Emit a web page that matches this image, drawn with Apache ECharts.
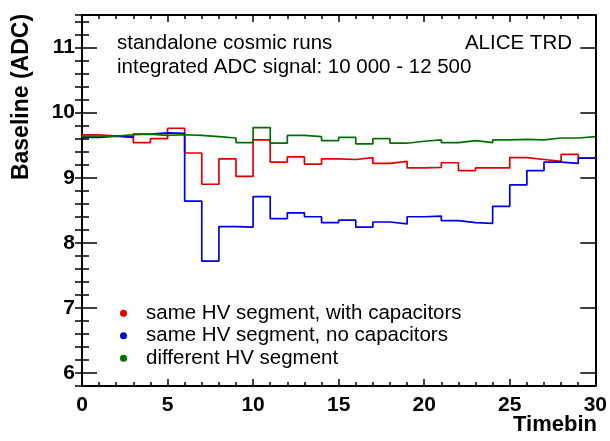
<!DOCTYPE html>
<html>
<head>
<meta charset="utf-8">
<script src="https://cdn.jsdelivr.net/npm/echarts@6/dist/echarts.min.js"></script>
<style>
    html, body { margin: 0; padding: 0; background: #fff; }
    #chart { width: 610px; height: 441px; }
</style>
</head>
<body>
<div id="chart"></div>
<script>
// baseline per timebin (bins 0..29)
var withCaps = [9.66, 9.64, 9.63, 9.54, 9.60, 9.76, 9.38, 8.90, 9.29, 9.02,
                9.58, 9.24, 9.32, 9.21, 9.29, 9.28, 9.31, 9.22, 9.25, 9.15,
                9.16, 9.23, 9.11, 9.15, 9.15, 9.31, 9.28, 9.25, 9.36, 9.30];
var noCaps = [9.62, 9.64, 9.62, 9.67, 9.69, 9.68, 8.64, 7.72, 8.25, 8.24,
              8.71, 8.37, 8.46, 8.40, 8.31, 8.35, 8.24, 8.32, 8.29, 8.40,
              8.41, 8.34, 8.31, 8.30, 8.56, 8.89, 9.11, 9.24, 9.22, 9.30];
var diffSeg = [9.64, 9.64, 9.66, 9.67, 9.65, 9.66, 9.65, 9.63, 9.61, 9.54,
               9.77, 9.53, 9.65, 9.63, 9.57, 9.62, 9.52, 9.60, 9.53, 9.56,
               9.58, 9.54, 9.57, 9.54, 9.58, 9.59, 9.58, 9.61, 9.61, 9.63];
var seriesNames = ['same HV segment, with capacitors', 'same HV segment, no capacitors', 'different HV segment'];
var yTicks = [6, 7, 8, 9, 10, 11];

var fontName = '"Liberation Sans", Arial, sans-serif';

function histData(values) {
    var out = [];
    for (var i = 0; i < values.length; i++) {
        out.push([i, values[i]]);
    }
    out.push([values.length, values[values.length - 1]]);
    return out;
}

function stepSeries(name, values, color) {
    return {
        name: name,
        type: 'line',
        step: 'end',
        showSymbol: false,
        symbol: 'none',
        lineStyle: { color: color, width: 1.7 },
        itemStyle: { color: color },
        data: histData(values)
    };
}

var frameLine = { show: true, onZero: false, lineStyle: { color: '#000', width: 2 } };

var chart = echarts.init(document.getElementById('chart'));
var option = {
    animation: false,
    backgroundColor: '#fff',
    grid: { left: 82, right: 14, top: 15, bottom: 55 },
    legend: {
        orient: 'vertical',
        left: 120,
        top: 302,
        padding: 0,
        itemGap: 0,
        icon: 'circle',
        itemWidth: 7,
        itemHeight: 7,
        data: seriesNames,
        textStyle: { fontFamily: fontName, fontSize: 20.5, color: '#000', lineHeight: 22.5, padding: [0, 0, 0, 14] }
    },
    xAxis: [
        {
            type: 'value', position: 'bottom', min: 0, max: 30, interval: 5,
            axisLine: frameLine,
            axisTick: { show: true, inside: true, length: 7, lineStyle: { color: '#000', width: 1.5 } },
            minorTick: { show: true, splitNumber: 5, length: 4, lineStyle: { color: '#000', width: 1.5 } },
            splitLine: { show: false },
            axisLabel: { fontFamily: fontName, fontSize: 21, fontWeight: 'bold', color: '#000', margin: 9 }
        },
        {
            type: 'value', position: 'top', min: 0, max: 30, interval: 5,
            axisLine: frameLine,
            axisTick: { show: true, inside: true, length: 7, lineStyle: { color: '#000', width: 1.5 } },
            minorTick: { show: true, splitNumber: 5, length: 4, lineStyle: { color: '#000', width: 1.5 } },
            splitLine: { show: false },
            axisLabel: { show: false }
        }
    ],
    yAxis: [
        {
            type: 'value', position: 'left', min: 5.8, max: 11.5,
            axisLine: frameLine,
            axisTick: { show: true, inside: true, length: 15, customValues: yTicks, lineStyle: { color: '#000', width: 1.5 } },
            splitLine: { show: false },
            axisLabel: { customValues: yTicks, fontFamily: fontName, fontSize: 21, fontWeight: 'bold', color: '#000', margin: 7 }
        },
        {
            type: 'value', position: 'left', min: 5.8, max: 11.5, interval: 0.2,
            axisLine: { show: false },
            axisTick: { show: true, inside: true, length: 7, lineStyle: { color: '#000', width: 1.5 } },
            splitLine: { show: false },
            axisLabel: { show: false }
        },
        {
            type: 'value', position: 'right', min: 5.8, max: 11.5,
            axisLine: frameLine,
            axisTick: { show: true, inside: true, length: 15, customValues: yTicks, lineStyle: { color: '#000', width: 1.5 } },
            splitLine: { show: false },
            axisLabel: { show: false }
        },
        {
            type: 'value', position: 'right', min: 5.8, max: 11.5, interval: 0.2,
            axisLine: { show: false },
            axisTick: { show: true, inside: true, length: 7, lineStyle: { color: '#000', width: 1.5 } },
            splitLine: { show: false },
            axisLabel: { show: false }
        }
    ],
    series: [
        stepSeries(seriesNames[0], withCaps, '#e00000'),
        stepSeries(seriesNames[1], noCaps, '#0000e0'),
        stepSeries(seriesNames[2], diffSeg, '#007000')
    ],
    graphic: [
        {
            type: 'text', left: 117, top: 33,
            style: { text: 'standalone cosmic runs', font: '20.5px ' + fontName, fill: '#000' }
        },
        {
            type: 'text', left: 117, top: 57,
            style: { text: 'integrated ADC signal: 10 000 - 12 500', font: '20.5px ' + fontName, fill: '#000' }
        },
        {
            type: 'text', right: 38, top: 33,
            style: { text: 'ALICE TRD', font: '20.5px ' + fontName, fill: '#000' }
        },
        {
            type: 'text', right: 13, top: 414,
            style: { text: 'Timebin', font: 'bold 22px ' + fontName, fill: '#000' }
        },
        {
            type: 'text', x: 22, y: 97, rotation: Math.PI / 2,
            style: { text: 'Baseline (ADC)', font: 'bold 23px ' + fontName, fill: '#000', align: 'center', verticalAlign: 'middle' }
        }
    ]
};
chart.setOption(option);
</script>
</body>
</html>
